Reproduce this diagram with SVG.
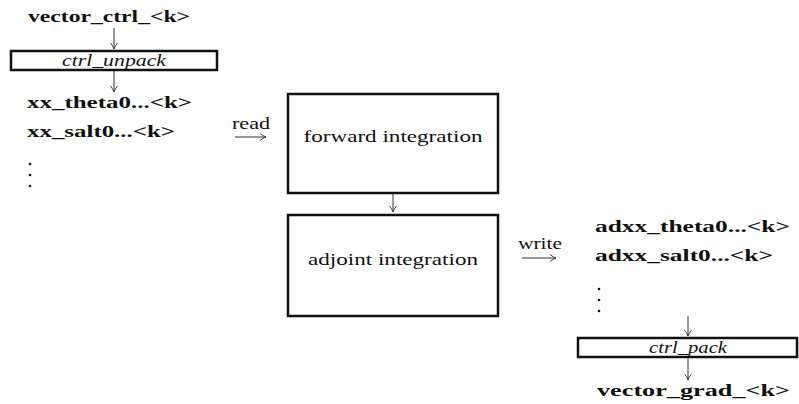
<svg xmlns="http://www.w3.org/2000/svg" width="799" height="404" viewBox="0 0 799 404">
<style>
.b{font-family:"Liberation Serif","DejaVu Serif",serif;font-weight:bold;font-size:17px;fill:#111}
.r{font-family:"Liberation Serif","DejaVu Serif",serif;font-weight:normal;font-size:17px;fill:#111}
.i{font-family:"Liberation Serif","DejaVu Serif",serif;font-style:italic;font-size:17px;fill:#111}
.box{fill:none;stroke:#111;stroke-width:2.5}
.thin{fill:none;stroke:#333;stroke-width:1}
.dot{fill:#111}
</style>
<defs>
<marker id="ah" markerWidth="8" markerHeight="8" refX="6" refY="4" orient="auto" markerUnits="userSpaceOnUse">
<path d="M0,0.5 Q3,3 6,4 Q3,5 0,7.5" fill="none" stroke="#333" stroke-width="0.9"/>
</marker>
</defs>
<g id="vector_ctrl"><text class="b" x="28" y="22" textLength="162" lengthAdjust="spacingAndGlyphs">vector_ctrl_&lt;k&gt;</text></g>
<g id="ctrl_unpack"><rect class="box" x="11" y="51" width="206" height="19"/><text class="i" x="114" y="66" text-anchor="middle" textLength="104" lengthAdjust="spacingAndGlyphs">ctrl_unpack</text></g>
<g id="xx_vars">
<text class="b" x="27" y="108" textLength="165" lengthAdjust="spacingAndGlyphs">xx_theta0...&lt;k&gt;</text>
<text class="b" x="27" y="137" textLength="148" lengthAdjust="spacingAndGlyphs">xx_salt0...&lt;k&gt;</text>
<circle class="dot" cx="30" cy="164" r="1.3"/><circle class="dot" cx="30" cy="175" r="1.3"/><circle class="dot" cx="30" cy="186" r="1.3"/>
</g>
<g id="forward"><rect class="box" x="288" y="94" width="210" height="99"/><text class="r" x="393" y="142" text-anchor="middle" textLength="179" lengthAdjust="spacingAndGlyphs">forward integration</text></g>
<g id="adjoint"><rect class="box" x="288" y="215" width="210" height="101"/><text class="r" x="393" y="265" text-anchor="middle" textLength="170" lengthAdjust="spacingAndGlyphs">adjoint integration</text></g>
<g id="adxx_vars">
<text class="b" x="595" y="232" textLength="195" lengthAdjust="spacingAndGlyphs">adxx_theta0...&lt;k&gt;</text>
<text class="b" x="595" y="261" textLength="178" lengthAdjust="spacingAndGlyphs">adxx_salt0...&lt;k&gt;</text>
<circle class="dot" cx="599" cy="289" r="1.3"/><circle class="dot" cx="599" cy="300" r="1.3"/><circle class="dot" cx="599" cy="311" r="1.3"/>
</g>
<g id="ctrl_pack"><rect class="box" x="578" y="338" width="219" height="19"/><text class="i" x="688" y="353" text-anchor="middle" textLength="78" lengthAdjust="spacingAndGlyphs">ctrl_pack</text></g>
<g id="vector_grad"><text class="b" x="597" y="396" textLength="193" lengthAdjust="spacingAndGlyphs">vector_grad_&lt;k&gt;</text></g>
<g id="connectors">
<line class="thin" x1="114" y1="28" x2="114" y2="49" marker-end="url(#ah)"/>
<line class="thin" x1="114" y1="71" x2="114" y2="92" marker-end="url(#ah)"/>
<line class="thin" x1="393" y1="194" x2="393" y2="212" marker-end="url(#ah)"/>
<line class="thin" x1="688" y1="316" x2="688" y2="336" marker-end="url(#ah)"/>
<line class="thin" x1="688" y1="358" x2="688" y2="380" marker-end="url(#ah)"/>
<text class="r" x="232" y="129" textLength="38" lengthAdjust="spacingAndGlyphs">read</text>
<line class="thin" x1="235" y1="137" x2="266" y2="137" marker-end="url(#ah)"/>
<text class="r" x="518" y="249" textLength="44" lengthAdjust="spacingAndGlyphs">write</text>
<line class="thin" x1="522" y1="258" x2="556" y2="258" marker-end="url(#ah)"/>
</g>
</svg>
